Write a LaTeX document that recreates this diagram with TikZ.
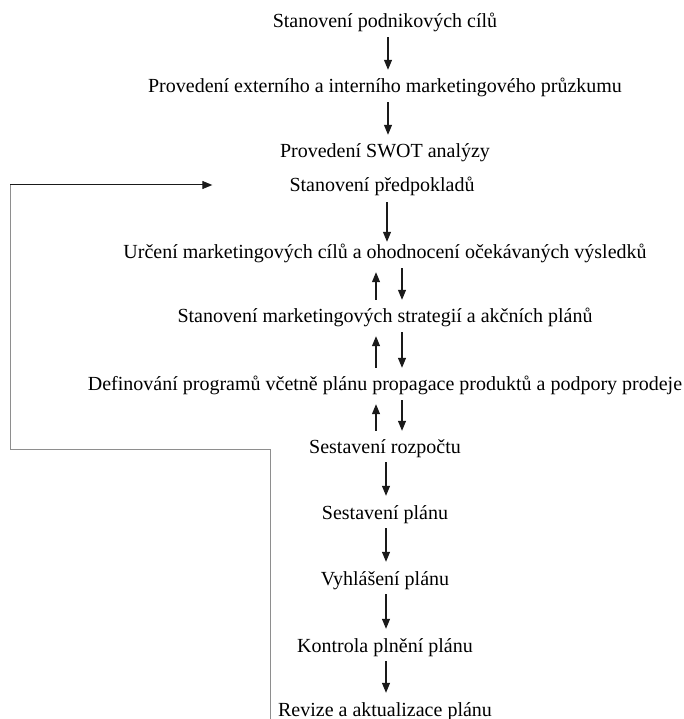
\documentclass[tikz,border=0pt]{standalone}
\usepackage{fontspec}
\setmainfont{Liberation Serif}
\usetikzlibrary{arrows.meta,positioning}
\definecolor{loopgray}{HTML}{8E8E8E}
\definecolor{flowdark}{HTML}{1A1A1A}

\begin{document}
\begin{tikzpicture}[
        x=1pt, y=-1pt,
        stepnode/.style={
            anchor=base,
            inner xsep=0pt,
            inner ysep=4pt,
            text height=15pt,
            text depth=5pt,
            font=\fontsize{20}{24}\selectfont
        },
        flow/.style={-{Triangle[length=10pt,width=8pt]},line width=1.1pt,flowdark,shorten >=4pt},
        loopline/.style={line width=1pt,loopgray}
    ]
        \useasboundingbox (0,0) rectangle (683,719);

        \node[stepnode] (goals) at (385,28) {Stanovení podnikových cílů};
        \node[stepnode] (survey) at (385,93) {Provedení externího a interního marketingového průzkumu};
        \node[stepnode] (swot) at (385,158) {Provedení SWOT analýzy};
        \node[stepnode] (assume) at (382,192) {Stanovení předpokladů};
        \node[stepnode] (mgoals) at (385,258) {Určení marketingových cílů a ohodnocení očekávaných výsledků};
        \node[stepnode] (strategy) at (385,322) {Stanovení marketingových strategií a akčních plánů};
        \node[stepnode] (program) at (385,390) {Definování programů včetně plánu propagace produktů a podpory prodeje};
        \node[stepnode] (budget) at (385,453) {Sestavení rozpočtu};
        \node[stepnode] (plan) at (385,519) {Sestavení plánu};
        \node[stepnode] (announce) at (385,585) {Vyhlášení plánu};
        \node[stepnode] (control) at (385,652) {Kontrola plnění plánu};
        \node[stepnode] (revise) at (385,716) {Revize a aktualizace plánu};

        % single arrows
        \draw[flow] ([xshift=3pt]goals.south) -- ([xshift=3pt]survey.north);
        \draw[flow] ([xshift=3pt]survey.south) -- ([xshift=3pt]swot.north);
        \draw[flow, shorten <=1pt, shorten >=-3pt] ([xshift=5pt]assume.south) -- ([xshift=2pt]mgoals.north);
        \draw[flow] ([xshift=1pt]budget.south) -- ([xshift=1pt]plan.north);
        \draw[flow] ([xshift=1pt]plan.south) -- ([xshift=1pt]announce.north);
        \draw[flow] ([xshift=1pt]announce.south) -- ([xshift=1pt]control.north);
        \draw[flow] ([xshift=1pt]control.south) -- ([xshift=1pt]revise.north);

        % up and down pairs
        \foreach \upper/\lower in {mgoals/strategy, strategy/program, program/budget} {
            \draw[flow, shorten <=3pt, shorten >=5pt] ([xshift=-9pt]\lower.north) -- ([xshift=-9pt]\upper.south);
            \draw[flow, shorten <=1pt, shorten >=3pt] ([xshift=17pt]\upper.south) -- ([xshift=17pt]\lower.north);
        }

        % feedback loop
        \coordinate (fbstart) at (270,725);
        \coordinate (fbbend) at (10,449);
        \coordinate (fbcorner) at (10,185);
        \draw[loopline] (fbstart) |- (fbbend) -- (fbcorner);
        \draw[flow, line width=1pt, shorten >=77pt] (fbcorner) -- (fbcorner -| assume.west);
    \end{tikzpicture}
\end{document}
